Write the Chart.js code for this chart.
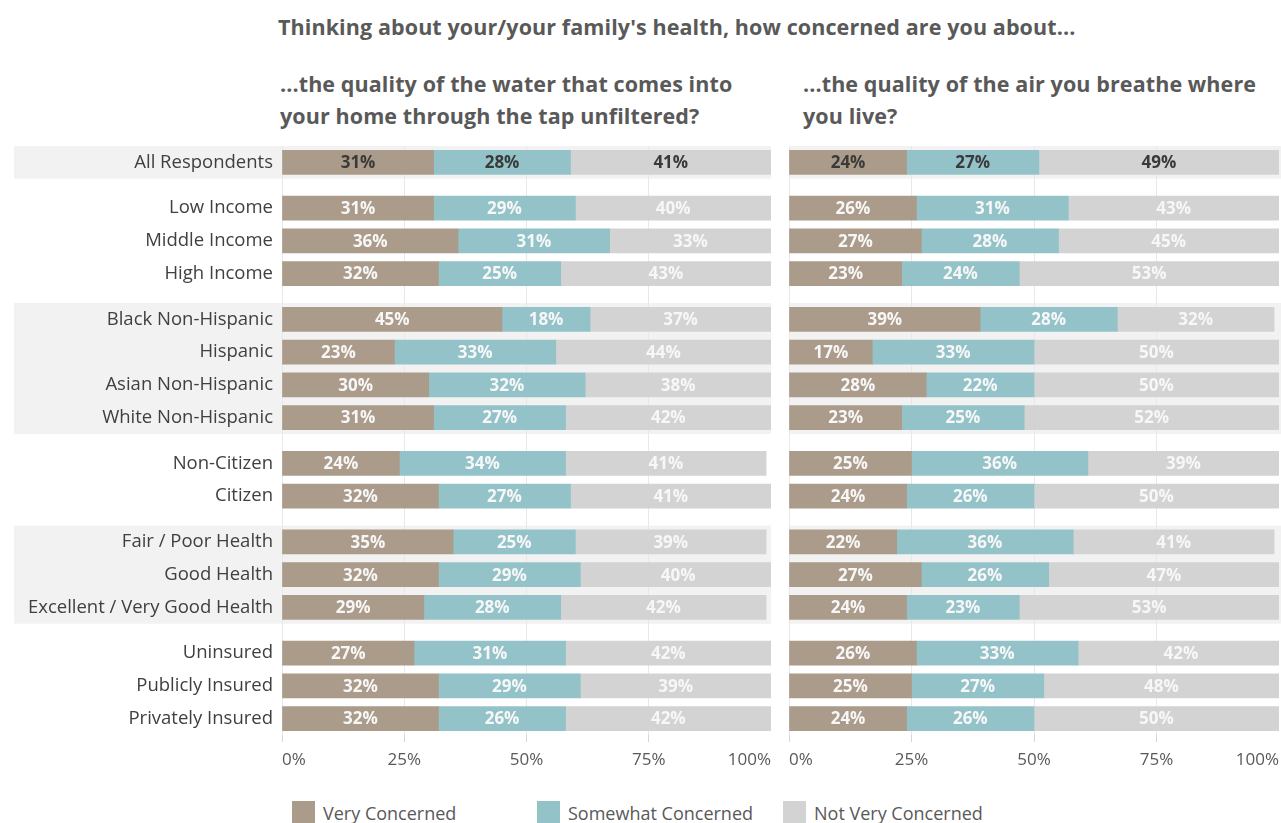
<!DOCTYPE html>
<html>
<head>
<meta charset="utf-8">
<script src="https://cdn.jsdelivr.net/npm/chart.js@4/dist/chart.umd.min.js"></script>
<style>
  body { margin: 0; background: #fff; font-family: 'Open Sans', sans-serif; color: #595959; }
  #wrap { position: relative; width: 1281px; height: 823px; overflow: hidden; }
  .head { position: absolute; font-weight: bold; font-size: 21.5px; letter-spacing: 0.1px; line-height: 32px; white-space: nowrap; color: #595959; }
  canvas { position: absolute; }
  .leg { position: absolute; top: 801px; font-size: 18px; line-height: 24px; color: #595959; white-space: nowrap; }
  .leg i { position: absolute; left: 0; top: 0; width: 23px; height: 24px; }
  .leg span { position: absolute; left: 31px; top: 0; }
</style>
</head>
<body>
<div id="wrap">
  <div class="head" style="left:278px; top:11px;">Thinking about your/your family's health, how concerned are you about...</div>
  <div class="head" style="left:280px; top:68px;">...the quality of the water that comes into<br>your home through the tap unfiltered?</div>
  <div class="head" style="left:803px; top:68px;">...the quality of the air you breathe where<br>you live?</div>

  <canvas id="left" width="780" height="640" style="left:0; top:140px;"></canvas>
  <canvas id="right" width="501" height="640" style="left:780px; top:140px;"></canvas>

  <div class="leg" style="left:292px;"><i style="background:#ab9b8a"></i><span>Very Concerned</span></div>
  <div class="leg" style="left:537px;"><i style="background:#93c3c8"></i><span>Somewhat Concerned</span></div>
  <div class="leg" style="left:783px;"><i style="background:#d3d3d3"></i><span>Not Very Concerned</span></div>
</div>

<script>
// rows and the group each one belongs to
const categories = [
  'All Respondents',
  'Low Income', 'Middle Income', 'High Income',
  'Black Non-Hispanic', 'Hispanic', 'Asian Non-Hispanic', 'White Non-Hispanic',
  'Non-Citizen', 'Citizen',
  'Fair / Poor Health', 'Good Health', 'Excellent / Very Good Health',
  'Uninsured', 'Publicly Insured', 'Privately Insured'
];
const groupOf = [0, 1, 1, 1, 2, 2, 2, 2, 3, 3, 4, 4, 4, 5, 5, 5];
const seriesNames = ['Very Concerned', 'Somewhat Concerned', 'Not Very Concerned'];

// water quality
const waterVery = [31, 31, 36, 32, 45, 23, 30, 31, 24, 32, 35, 32, 29, 27, 32, 32];
const waterSome = [28, 29, 31, 25, 18, 33, 32, 27, 34, 27, 25, 29, 28, 31, 29, 26];
const waterNot  = [41, 40, 33, 43, 37, 44, 38, 42, 41, 41, 39, 40, 42, 42, 39, 42];

// air quality
const airVery = [24, 26, 27, 23, 39, 17, 28, 23, 25, 24, 22, 27, 24, 26, 25, 24];
const airSome = [27, 31, 28, 24, 28, 33, 22, 25, 36, 26, 36, 26, 23, 33, 27, 26];
const airNot  = [49, 43, 45, 53, 32, 50, 50, 52, 39, 50, 41, 47, 53, 42, 48, 50];

const colors = ['#ab9b8a', '#93c3c8', '#d3d3d3'];
const fontFam = "'Open Sans', sans-serif";

// row position on the y scale: groups are pushed apart a little
const rowPos = categories.map((c, i) => i + groupOf[i] * 0.4);
const yMin = rowPos[0] - 0.5;
const yMax = rowPos[rowPos.length - 1] + 0.5;

function bandPlugin(getX0, getX1) {
  return {
    id: 'bands',
    beforeDraw(chart) {
      const ctx = chart.ctx, y = chart.scales.y;
      const groups = [...new Set(groupOf)];
      ctx.save();
      ctx.fillStyle = '#f2f2f2';
      groups.forEach(g => {
        if (g % 2 !== 0) return;
        const idx = groupOf.map((v, i) => v === g ? i : -1).filter(i => i >= 0);
        const top = y.getPixelForValue(rowPos[idx[0]] - 0.5);
        const bot = y.getPixelForValue(rowPos[idx[idx.length - 1]] + 0.5);
        const x0 = getX0(chart), x1 = getX1(chart);
        ctx.fillRect(x0, top, x1 - x0, bot - top);
      });
      ctx.restore();
    }
  };
}

const valueLabels = {
  id: 'valueLabels',
  afterDatasetsDraw(chart) {
    const ctx = chart.ctx;
    ctx.save();
    ctx.font = 'bold 17px ' + fontFam;
    ctx.textAlign = 'center';
    ctx.textBaseline = 'middle';
    chart.data.datasets.forEach((ds, di) => {
      chart.getDatasetMeta(di).data.forEach((bar, i) => {
        const p = bar.getProps(['x', 'base', 'y'], true);
        ctx.fillStyle = i === 0 ? '#3a3a3a' : '#f7f7f7';
        ctx.fillText(ds.data[i].x + '%', (p.x + p.base) / 2, p.y + 1);
      });
    });
    ctx.restore();
  }
};

function makePanel(id, very, some, notv, showLabels, pad, bands) {
  const sets = [very, some, notv].map((vals, k) => ({
    label: seriesNames[k],
    data: vals.map((v, i) => ({ x: v, y: rowPos[i] })),
    backgroundColor: colors[k],
    borderWidth: 0,
    barThickness: 24
  }));
  return new Chart(document.getElementById(id), {
    type: 'bar',
    data: { datasets: sets },
    plugins: [bands, valueLabels],
    options: {
      indexAxis: 'y',
      responsive: false,
      animation: false,
      layout: { padding: pad },
      plugins: { legend: { display: false }, tooltip: { enabled: false } },
      scales: {
        x: {
          stacked: true,
          min: 0, max: 100,
          border: { display: false },
          grid: {
            color: c => c.tick && c.tick.value === 100 ? 'rgba(0,0,0,0)' : '#e8e8e8',
            tickColor: c => c.tick && c.tick.value === 100 ? 'rgba(0,0,0,0)' : '#d6d6d6',
            tickLength: 7
          },
          ticks: {
            stepSize: 25, align: 'inner', padding: 8, color: '#595959',
            font: { family: fontFam, size: 17 },
            callback: v => v + '%'
          },
          afterFit: s => {
            s.height = 45;
            s.paddingLeft = 0;
            s.paddingRight = 0;
          }
        },
        y: {
          type: 'linear',
          stacked: true,
          reverse: true,
          offset: false,
          min: yMin, max: yMax,
          display: showLabels,
          border: { display: false },
          grid: { display: false, drawTicks: false },
          afterBuildTicks: s => { s.ticks = rowPos.map(v => ({ value: v })); },
          afterFit: s => {
            if (showLabels) s.width = 282;
            s.paddingTop = 0;
            s.paddingBottom = 0;
          },
          ticks: {
            autoSkip: false, padding: 9, color: '#404040',
            font: { family: fontFam, size: 18.5 },
            callback: (v, i) => categories[i]
          }
        }
      }
    }
  });
}

makePanel('left', waterVery, waterSome, waterNot, true,
  { top: 6, right: 9, left: 0, bottom: 0 },
  bandPlugin(() => 14, c => c.chartArea.right));
makePanel('right', airVery, airSome, airNot, false,
  { top: 6, right: 2, left: 9, bottom: 0 },
  bandPlugin(c => c.chartArea.left, c => c.width));
</script>
</body>
</html>
